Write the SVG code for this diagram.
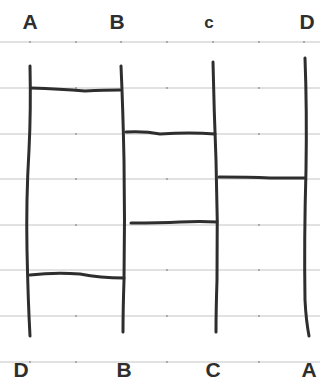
<svg xmlns="http://www.w3.org/2000/svg" width="320" height="382" viewBox="0 0 320 382">
<style>
.grid{stroke:#c4c4c4;stroke-width:1;fill:none}
.dot{fill:#999}
.pen{stroke:#2e2e2e;stroke-width:3;fill:none;stroke-linecap:round;stroke-linejoin:round}
.lbl{font-family:"Liberation Sans",Arial,sans-serif;font-size:21px;font-weight:bold;fill:#2e2e2e;text-anchor:middle}
</style>
<rect width="320" height="382" fill="#fff"/>
<g id="grid">
<path class="grid" d="M0 42H320M0 88H320M0 134H320M0 179H320M0 225H320M0 270H320M0 316H320M0 362H320"/>
<g class="dot">
<circle cx="30" cy="42" r="1"/><circle cx="76" cy="42" r="1"/><circle cx="121" cy="42" r="1"/><circle cx="167" cy="42" r="1"/><circle cx="213" cy="42" r="1"/><circle cx="259" cy="42" r="1"/><circle cx="304" cy="42" r="1"/>
<circle cx="76" cy="88" r="1"/><circle cx="167" cy="88" r="1"/><circle cx="259" cy="88" r="1"/>
<circle cx="76" cy="134" r="1"/><circle cx="167" cy="134" r="1"/><circle cx="259" cy="134" r="1"/>
<circle cx="76" cy="179" r="1"/><circle cx="167" cy="179" r="1"/>
<circle cx="76" cy="225" r="1"/><circle cx="259" cy="225" r="1"/>
<circle cx="167" cy="270" r="1"/><circle cx="259" cy="270" r="1"/>
<circle cx="76" cy="316" r="1"/><circle cx="167" cy="316" r="1"/><circle cx="259" cy="316" r="1"/>
<circle cx="30" cy="362" r="1"/><circle cx="76" cy="362" r="1"/><circle cx="167" cy="362" r="1"/><circle cx="259" cy="362" r="1"/>
</g>
</g>
<g id="A"><text class="lbl" x="30" y="29">A</text></g>
<g id="B"><text class="lbl" x="117" y="29">B</text></g>
<g id="C"><text class="lbl" x="209" y="28" style="font-size:17px">c</text></g>
<g id="D"><text class="lbl" x="307" y="29">D</text></g>
<g id="D2"><text class="lbl" x="21" y="377">D</text></g>
<g id="B2"><text class="lbl" x="124" y="377">B</text></g>
<g id="C2"><text class="lbl" x="213" y="377">C</text></g>
<g id="A2"><text class="lbl" x="309" y="377">A</text></g>
<g id="connectors">
<path class="pen" d="M30 66 Q31 110 29 150 Q26 200 27 250 Q28 300 30 336"/>
<path class="pen" d="M121 66 Q123 110 124 160 Q125 220 124 280 Q123 310 123 332"/>
<path class="pen" d="M213 62 Q214 110 216 160 Q218 220 217 280 Q216 310 216 332"/>
<path class="pen" d="M305 58 Q307 110 306 170 Q304 240 305 300 Q306 320 309 336"/>
<path class="pen" d="M31 88 Q60 89 85 91 Q105 90 120 90"/>
<path class="pen" d="M126 132 Q145 131 160 134 Q190 132 215 134"/>
<path class="pen" d="M219 177 Q250 177 270 178 Q290 178 305 178"/>
<path class="pen" d="M131 223 Q160 223 180 222 Q200 221 217 222"/>
<path class="pen" d="M30 275 Q55 272 80 274 Q100 278 124 278"/>
</g>
</svg>
